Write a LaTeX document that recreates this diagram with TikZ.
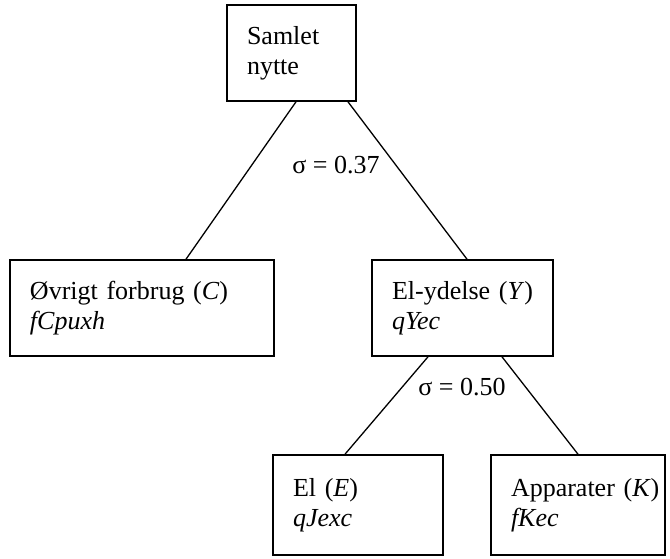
\documentclass[tikz,border=0pt]{standalone}
\usepackage{fontspec}
\setmainfont{Liberation Serif}
\tikzset{
    nyt/.style={
        x=1pt,y=-1pt,
        box/.append style={draw,line width=1.6pt,rectangle,align=left,inner xsep=20pt,inner ysep=0pt,font=\fontsize{26}{30}\selectfont},
        branch/.append style={line width=1.3pt},
        sigma/.append style={anchor=base,inner sep=0pt,font=\fontsize{26}{30}\selectfont}
    }
}

\begin{document}
\begin{tikzpicture}[nyt]
    \useasboundingbox (0,0) rectangle (670,558);
    \node[box,text width=89pt,minimum height=96pt] (nytte) at (291.5,53) {Samlet\\nytte};
    \node[box,text width=224pt,minimum height=96pt] (forbrug) at (142,308) {Øvrigt forbrug (\textit{C})\\\textit{fCpuxh}};
    \node[box,text width=141pt,minimum height=96pt] (ydelse) at (462.5,308) {El-ydelse (\textit{Y})\\\textit{qYec}};
    \node[box,text width=130pt,minimum height=100pt] (el) at (358,505) {El (\textit{E})\\\textit{qJexc}};
    \node[box,text width=134pt,minimum height=100pt] (app) at (578,505) {\mbox{Apparater (\textit{K})}\\\textit{fKec}};
    \draw[branch] ([xshift=4.5pt]nytte.south) -- ([xshift=44pt]forbrug.north);
    \draw[branch] ([xshift=56.5pt]nytte.south) -- ([xshift=4.5pt]ydelse.north);
    \draw[branch] ([xshift=-34.5pt]ydelse.south) -- ([xshift=-13pt]el.north);
    \draw[branch] ([xshift=39.5pt]ydelse.south) -- (app.north);
    \node[sigma] (s1) at (336,173) {σ = 0.37};
    \node[sigma] (s2) at (462,395) {σ = 0.50};
\end{tikzpicture}
\end{document}
